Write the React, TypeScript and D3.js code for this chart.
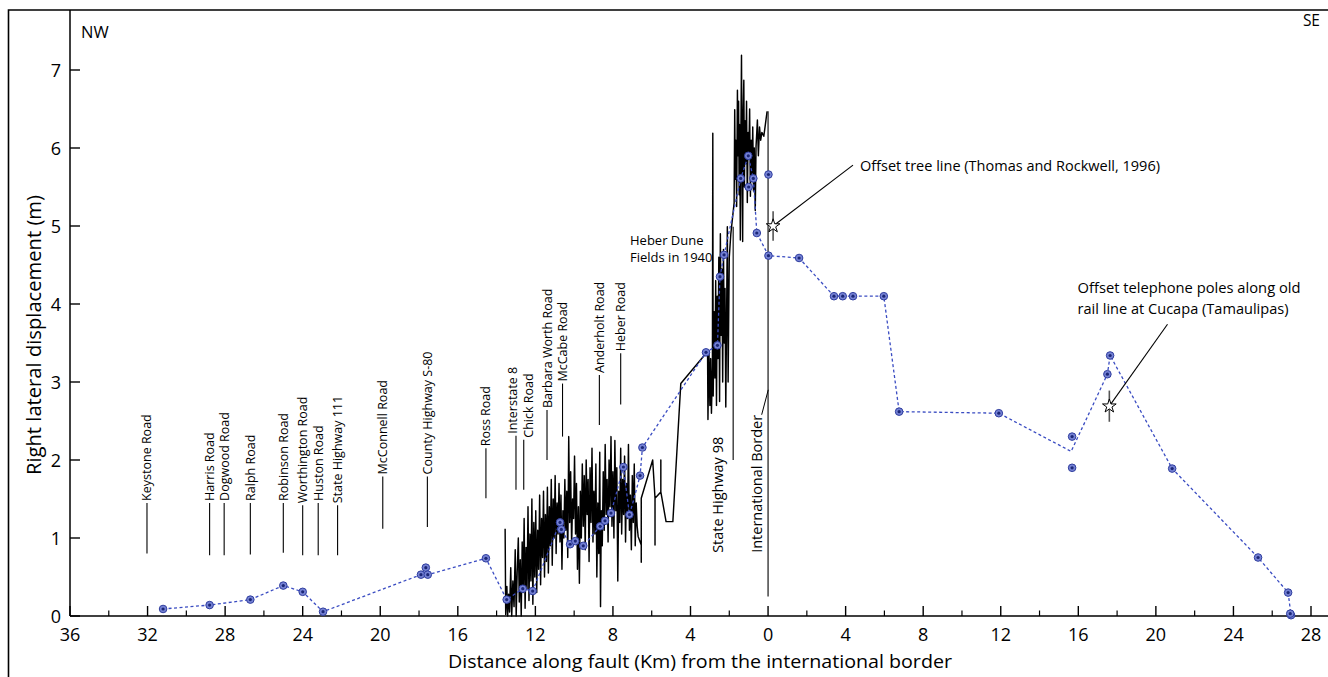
import React from 'react';
import * as d3 from 'd3';

const WIDTH = 1328;
const HEIGHT = 677;
const FONT = '"Open Sans", "DejaVu Sans", sans-serif';

// distance along the fault, km; negative values are NW of the border
const xMajorTicks = [-36, -32, -28, -24, -20, -16, -12, -8, -4, 0, 4, 8, 12, 16, 20, 24, 28];
const xMinorTicks = [-34, -30, -26, -22, -18, -14, -10, -6, -2, 2, 6, 10, 14, 18, 22, 26];
const yTicks = [0, 1, 2, 3, 4, 5, 6, 7];

// dotted profile through the measured offsets [km, m]
const offsetProfile = [
  [-31.2, 0.09], [-28.8, 0.14], [-26.7, 0.21], [-25.0, 0.39], [-24.0, 0.31], [-22.95, 0.055],
  [-17.9, 0.53], [-17.65, 0.62], [-17.55, 0.53], [-14.55, 0.74], [-13.48, 0.21], [-12.65, 0.35],
  [-12.14, 0.32], [-10.73, 1.2], [-10.66, 1.11], [-10.21, 0.92], [-9.94, 0.96], [-9.53, 0.9],
  [-8.66, 1.15], [-8.41, 1.22], [-8.1, 1.32], [-7.46, 1.91], [-7.15, 1.3], [-6.93, 1.49],
  [-6.6, 1.8], [-6.48, 2.16], [-3.2, 3.38], [-2.61, 3.47], [-2.48, 4.35], [-2.27, 4.63],
  [-1.41, 5.61], [-1.02, 5.9], [-0.76, 5.61], [-0.58, 4.91], [0.02, 4.62], [1.6, 4.59],
  [3.4, 4.1], [3.85, 4.1], [4.38, 4.1], [5.97, 4.1], [6.76, 2.62], [11.9, 2.6], [15.63, 2.11],
  [17.5, 3.1], [17.64, 3.34], [20.84, 1.89], [25.27, 0.75], [26.82, 0.3], [26.97, 0.01],
];

// measured offset sites (circles) [km, m]
const offsetSites = [
  [-31.2, 0.09], [-28.8, 0.14], [-26.7, 0.21], [-25.0, 0.39], [-24.0, 0.31], [-22.95, 0.055],
  [-17.9, 0.53], [-17.65, 0.62], [-17.55, 0.53], [-14.55, 0.74], [-13.48, 0.21], [-12.65, 0.35],
  [-12.14, 0.32], [-10.73, 1.2], [-10.66, 1.11], [-10.21, 0.92], [-9.94, 0.96], [-9.53, 0.9],
  [-8.66, 1.15], [-8.41, 1.22], [-8.1, 1.32], [-7.46, 1.91], [-7.15, 1.3], [-6.6, 1.8],
  [-6.48, 2.16], [-3.2, 3.38], [-2.61, 3.47], [-2.48, 4.35], [-2.27, 4.63], [-1.41, 5.61],
  [-1.02, 5.9], [-1.0, 5.5], [-0.76, 5.61], [-0.58, 4.91], [0.02, 5.66], [0.02, 4.62],
  [1.6, 4.59], [3.4, 4.1], [3.85, 4.1], [4.38, 4.1], [5.97, 4.1], [6.76, 2.62], [11.9, 2.6],
  [15.68, 2.3], [15.68, 1.9], [17.5, 3.1], [17.64, 3.34], [20.84, 1.89], [25.27, 0.75],
  [26.82, 0.3], [26.97, 0.01], [26.93, 0.03],
];

// dense 1940 offset trace [km, m]
const offsetTrace = [
  [-13.56, 1.12], [-13.53, 0.02], [-13.47, 0.38], [-13.43, 0.0], [-13.38, 0.28], [-13.33, 0.05],
  [-13.27, 0.62], [-13.22, 0.0], [-13.16, 0.45], [-13.1, 0.12], [-13.04, 0.85], [-12.99, 0.0],
  [-12.94, 0.55], [-12.88, 1.0], [-12.83, 0.18], [-12.78, 0.72], [-12.73, 0.0], [-12.68, 0.95],
  [-12.63, 0.3], [-12.58, 1.25], [-12.53, 0.1], [-12.48, 0.88], [-12.43, 0.35], [-12.38, 1.4],
  [-12.33, 0.2], [-12.28, 1.05], [-12.23, 0.45], [-12.18, 1.5], [-12.13, 0.15], [-12.08, 1.2],
  [-12.03, 0.5], [-11.98, 1.35], [-11.93, 0.3], [-11.88, 1.1], [-11.83, 0.6], [-11.78, 1.55],
  [-11.73, 0.4], [-11.68, 1.25], [-11.63, 0.75], [-11.58, 1.6], [-11.53, 0.5], [-11.48, 1.3],
  [-11.43, 0.7], [-11.38, 1.65], [-11.33, 0.55], [-11.28, 1.4], [-11.23, 0.9], [-11.18, 1.75],
  [-11.13, 0.65], [-11.08, 1.5], [-11.03, 1.0], [-10.98, 1.8], [-10.93, 0.8], [-10.88, 1.45],
  [-10.83, 1.05], [-10.78, 1.7], [-10.73, 0.95], [-10.68, 1.55], [-10.63, 0.6], [-10.58, 1.35],
  [-10.53, 1.0], [-10.48, 1.75], [-10.43, 1.1], [-10.38, 1.6], [-10.33, 0.75], [-10.28, 2.3],
  [-10.23, 1.2], [-10.18, 1.85], [-10.13, 0.9], [-10.08, 1.5], [-10.03, 1.25], [-9.98, 2.05],
  [-9.93, 1.05], [-9.88, 1.7], [-9.83, 0.6], [-9.78, 1.4], [-9.73, 0.42], [-9.68, 1.6],
  [-9.63, 1.0], [-9.58, 1.95], [-9.53, 1.15], [-9.48, 1.8], [-9.43, 0.85], [-9.38, 2.0],
  [-9.33, 1.3], [-9.28, 1.75], [-9.23, 0.7], [-9.18, 1.9], [-9.13, 1.2], [-9.08, 2.15],
  [-9.03, 0.95], [-8.98, 1.6], [-8.93, 1.05], [-8.88, 1.95], [-8.83, 0.5], [-8.78, 1.45],
  [-8.73, 0.8], [-8.68, 2.1], [-8.64, 0.12], [-8.6, 1.35], [-8.55, 0.9], [-8.5, 1.85],
  [-8.45, 1.1], [-8.4, 2.2], [-8.35, 1.3], [-8.3, 1.75], [-8.25, 0.95], [-8.2, 2.0],
  [-8.15, 1.4], [-8.1, 2.3], [-8.05, 1.15], [-8.0, 1.85], [-7.95, 1.0], [-7.9, 2.25],
  [-7.85, 1.35], [-7.8, 1.9], [-7.75, 0.45], [-7.7, 1.6], [-7.65, 1.2], [-7.6, 2.15],
  [-7.55, 1.05], [-7.5, 1.75], [-7.45, 1.3], [-7.4, 2.05], [-7.35, 0.95], [-7.3, 1.7],
  [-7.25, 1.25], [-7.2, 2.2], [-7.15, 1.1], [-7.1, 1.55], [-7.05, 0.85], [-7.0, 1.8],
  [-6.95, 1.2], [-6.9, 1.95], [-6.85, 0.9], [-6.8, 1.45], [-6.75, 1.15], [-6.7, 1.02],
  [-6.54, 0.91], [-6.54, 0.69], [-6.54, 1.51], [-5.95, 2.0], [-5.83, 1.51], [-5.83, 0.91],
  [-5.83, 1.51], [-5.53, 1.59], [-5.53, 2.0], [-5.53, 1.59], [-5.26, 1.21], [-4.91, 1.21],
  [-4.5, 2.98], [-3.12, 3.39], [-3.1, 2.52], [-3.05, 3.4], [-3.0, 2.7], [-2.96, 3.3],
  [-2.92, 2.6], [-2.87, 3.2], [-2.85, 6.19], [-2.83, 2.82], [-2.78, 3.9], [-2.74, 3.05],
  [-2.7, 4.3], [-2.66, 2.7], [-2.62, 4.1], [-2.58, 3.3], [-2.54, 4.6], [-2.5, 2.75],
  [-2.46, 4.9], [-2.42, 3.6], [-2.38, 4.45], [-2.34, 3.0], [-2.3, 4.7], [-2.26, 3.5],
  [-2.22, 4.2], [-2.18, 2.68], [-2.14, 3.8], [-2.1, 4.99], [-2.06, 3.0], [-2.0, 4.6],
  [-1.92, 4.9], [-1.75, 5.3], [-1.72, 6.49], [-1.69, 5.6], [-1.66, 6.1], [-1.62, 5.25],
  [-1.58, 6.74], [-1.55, 5.9], [-1.52, 6.6], [-1.49, 5.4], [-1.46, 6.3], [-1.43, 4.82],
  [-1.4, 6.2], [-1.37, 7.19], [-1.34, 5.7], [-1.31, 4.8], [-1.28, 6.5], [-1.25, 6.87],
  [-1.22, 5.5], [-1.19, 6.35], [-1.15, 5.8], [-1.11, 6.6], [-1.07, 5.3], [-1.03, 6.2],
  [-0.99, 5.95], [-0.95, 6.5], [-0.91, 5.38], [-0.87, 6.1], [-0.83, 5.6], [-0.79, 6.27],
  [-0.75, 5.45], [-0.71, 6.0], [-0.66, 5.2], [-0.62, 6.02], [-0.55, 6.36], [-0.5, 5.9],
  [-0.44, 6.27], [-0.38, 6.1], [-0.32, 6.2], [-0.22, 6.15], [-0.14, 6.3], [-0.05, 6.47],
];

// road crossings along the fault
const roadNames = [
  'Keystone Road', 'Harris Road', 'Dogwood Road', 'Ralph Road', 'Robinson Road',
  'Worthington Road', 'Huston Road', 'State Highway 111', 'McConnell Road',
  'County Highway S-80', 'Ross Road', 'Interstate 8', 'Chick Road', 'Barbara Worth Road',
  'McCabe Road', 'Anderholt Road', 'Heber Road',
];
const roadKm = [-32.03, -28.8, -28.05, -26.7, -25.0, -24.0, -23.2, -22.2, -19.87, -17.57,
  -14.55, -13.0, -12.6, -11.4, -10.6, -8.7, -7.6];
// leader extent for each road label, in metres [bottom, top]
const roadLeader = [
  [0.8, 1.45], [0.78, 1.45], [0.78, 1.45], [0.79, 1.45], [0.81, 1.45], [0.78, 1.42],
  [0.78, 1.45], [0.78, 1.42], [1.12, 1.79], [1.14, 1.79], [1.51, 2.15], [1.62, 2.31],
  [1.62, 2.26], [2.0, 2.64], [2.3, 2.98], [2.45, 3.09], [2.71, 3.37],
];
// sideways nudge of a label off its leader (px), where names crowd
const roadTextShift = [0, 0, 0, 0, 0, 0, 0, 0, 0, 0, 0, -3.5, 4.5, 0, 0, 0, 0];

// offset markers with uncertainty [km, m, ±m]
const markers = [
  [0.26, 5.0, 0.19],
  [17.6, 2.69, 0.2],
];
const markerText = [
  ['Offset tree line (Thomas and Rockwell, 1996)'],
  ['Offset telephone poles along old', 'rail line at Cucapa (Tamaulipas)'],
];
const markerTextWidth = [[300], [223, 211]];
// label anchor positions [km, m] for markers' text, and the leader end
const markerLabelAt = [[4.74, 5.7], [15.96, 4.14]];
const markerLeaderTo = [[4.38, 5.78], [20.6, 3.74]];

export default function App() {
  const x = d3.scaleLinear().domain([-36, 28]).range([70, 1311]);
  const y = d3.scaleLinear().domain([0, 7]).range([616, 70]);

  const line = d3.line<number[]>().x(d => x(d[0])).y(d => y(d[1]));
  const star = d3.symbol().type(d3.symbolStar).size(58)();

  const axisY = y(0);

  return (
    <svg width={WIDTH} height={HEIGHT} style={{ position: 'absolute', left: 0, top: 0 }}
      fontFamily={FONT}>
      <rect width={WIDTH} height={HEIGHT} fill="#fff" />

      {/* outer frame, runs off the right and bottom edges */}
      <path d={`M8.5,${HEIGHT + 2} V10 H${WIDTH + 2}`} fill="none" stroke="#000" strokeWidth={1.6} />

      {/* axes */}
      <line x1={70} x2={70} y1={10} y2={axisY} stroke="#000" strokeWidth={1.5} />
      <line x1={70} x2={WIDTH} y1={axisY} y2={axisY} stroke="#000" strokeWidth={1.6} />

      {xMajorTicks.map(t => (
        <g key={'xt' + t} transform={`translate(${x(t)},${axisY})`}>
          <line y2={-10} stroke="#000" strokeWidth={1.4} />
          <text y={25} textAnchor="middle" fontSize={18}>{Math.abs(t)}</text>
        </g>
      ))}
      {xMinorTicks.map(t => (
        <line key={'xm' + t} x1={x(t)} x2={x(t)} y1={axisY} y2={axisY - 5.5} stroke="#000" strokeWidth={1.2} />
      ))}
      {yTicks.map(t => (
        <g key={'yt' + t} transform={`translate(70,${y(t)})`}>
          <line x2={10} stroke="#000" strokeWidth={1.4} />
          <text x={-9} y={6.5} textAnchor="end" fontSize={18}>{t}</text>
        </g>
      ))}

      <text x={700} y={668} textAnchor="middle" fontSize={18.5} textLength={504} lengthAdjust="spacingAndGlyphs">
        Distance along fault (Km) from the international border
      </text>
      <text transform="translate(41,335) rotate(-90)" textAnchor="middle" fontSize={19.5}
        textLength={280} lengthAdjust="spacingAndGlyphs">
        Right lateral displacement (m)
      </text>

      <text x={81} y={38} fontSize={16.5}>NW</text>
      <text x={1320} y={26} fontSize={15.5} textAnchor="end">SE</text>

      {/* road labels with leaders */}
      {roadNames.map((name, i) => {
        const rx = x(roadKm[i]);
        const top = y(roadLeader[i][1]);
        return (
          <g key={name}>
            <line x1={rx} x2={rx} y1={y(roadLeader[i][0])} y2={top} stroke="#000" strokeWidth={1.1} />
            <text transform={`translate(${rx + roadTextShift[i]},${top - 2}) rotate(-90)`} fontSize={12.5}
              dominantBaseline="central">{name}</text>
          </g>
        );
      })}

      {/* State Highway 98 and the border */}
      <line x1={x(-1.8)} x2={x(-1.8)} y1={y(2.0)} y2={y(4.99)} stroke="#000" strokeWidth={1.1} />
      <text transform={`translate(${x(-2.63)},${y(0.81)}) rotate(-90)`} fontSize={15}
        dominantBaseline="central" textLength={116} lengthAdjust="spacingAndGlyphs">State Highway 98</text>
      <line x1={x(0)} x2={x(0)} y1={y(0.25)} y2={y(6.47)} stroke="#000" strokeWidth={1.1} />
      <line x1={x(-0.33)} x2={x(0.01)} y1={y(2.58)} y2={y(2.9)} stroke="#000" strokeWidth={1} />
      <text transform={`translate(${x(-0.63)},${y(0.81)}) rotate(-90)`} fontSize={15}
        dominantBaseline="central" textLength={138} lengthAdjust="spacingAndGlyphs">International Border</text>

      <text x={x(-7.12)} y={y(4.76)} fontSize={13}>Heber Dune</text>
      <text x={x(-7.12)} y={y(4.54)} fontSize={13}>Fields in 1940</text>

      {/* dense offset trace */}
      <path d={line(offsetTrace) || ''} fill="none" stroke="#000" strokeWidth={1.45} strokeLinejoin="round" />

      {/* dotted profile and measured sites */}
      <path d={line(offsetProfile) || ''} fill="none" stroke="#3a4cc2" strokeWidth={1.3} strokeDasharray="3,2.5" />
      {offsetSites.map((d, i) => (
        <g key={'s' + i} transform={`translate(${x(d[0])},${y(d[1])})`}>
          <circle r={3.8} fill="#7582d4" stroke="#2f3d9e" strokeWidth={1} />
          <circle r={1.6} fill="#1c2777" />
        </g>
      ))}

      {/* offset markers */}
      {markers.map((m, i) => {
        const mx = x(m[0]);
        const my = y(m[1]);
        return (
          <g key={'mk' + i}>
            <line x1={mx} x2={mx} y1={y(m[1] - m[2])} y2={y(m[1] + m[2])} stroke="#555" strokeWidth={1.6} />
            <line x1={mx} y1={my} x2={x(markerLeaderTo[i][0])} y2={y(markerLeaderTo[i][1])} stroke="#000" strokeWidth={1.1} />
            <path d={star || ''} transform={`translate(${mx},${my})`} fill="#fff" stroke="#000" strokeWidth={1} />
            {markerText[i].map((t, j) => (
              <text key={j} x={x(markerLabelAt[i][0])} y={y(markerLabelAt[i][1]) + j * 21} fontSize={15}
                textLength={markerTextWidth[i][j]} lengthAdjust="spacingAndGlyphs">{t}</text>
            ))}
          </g>
        );
      })}
    </svg>
  );
}
